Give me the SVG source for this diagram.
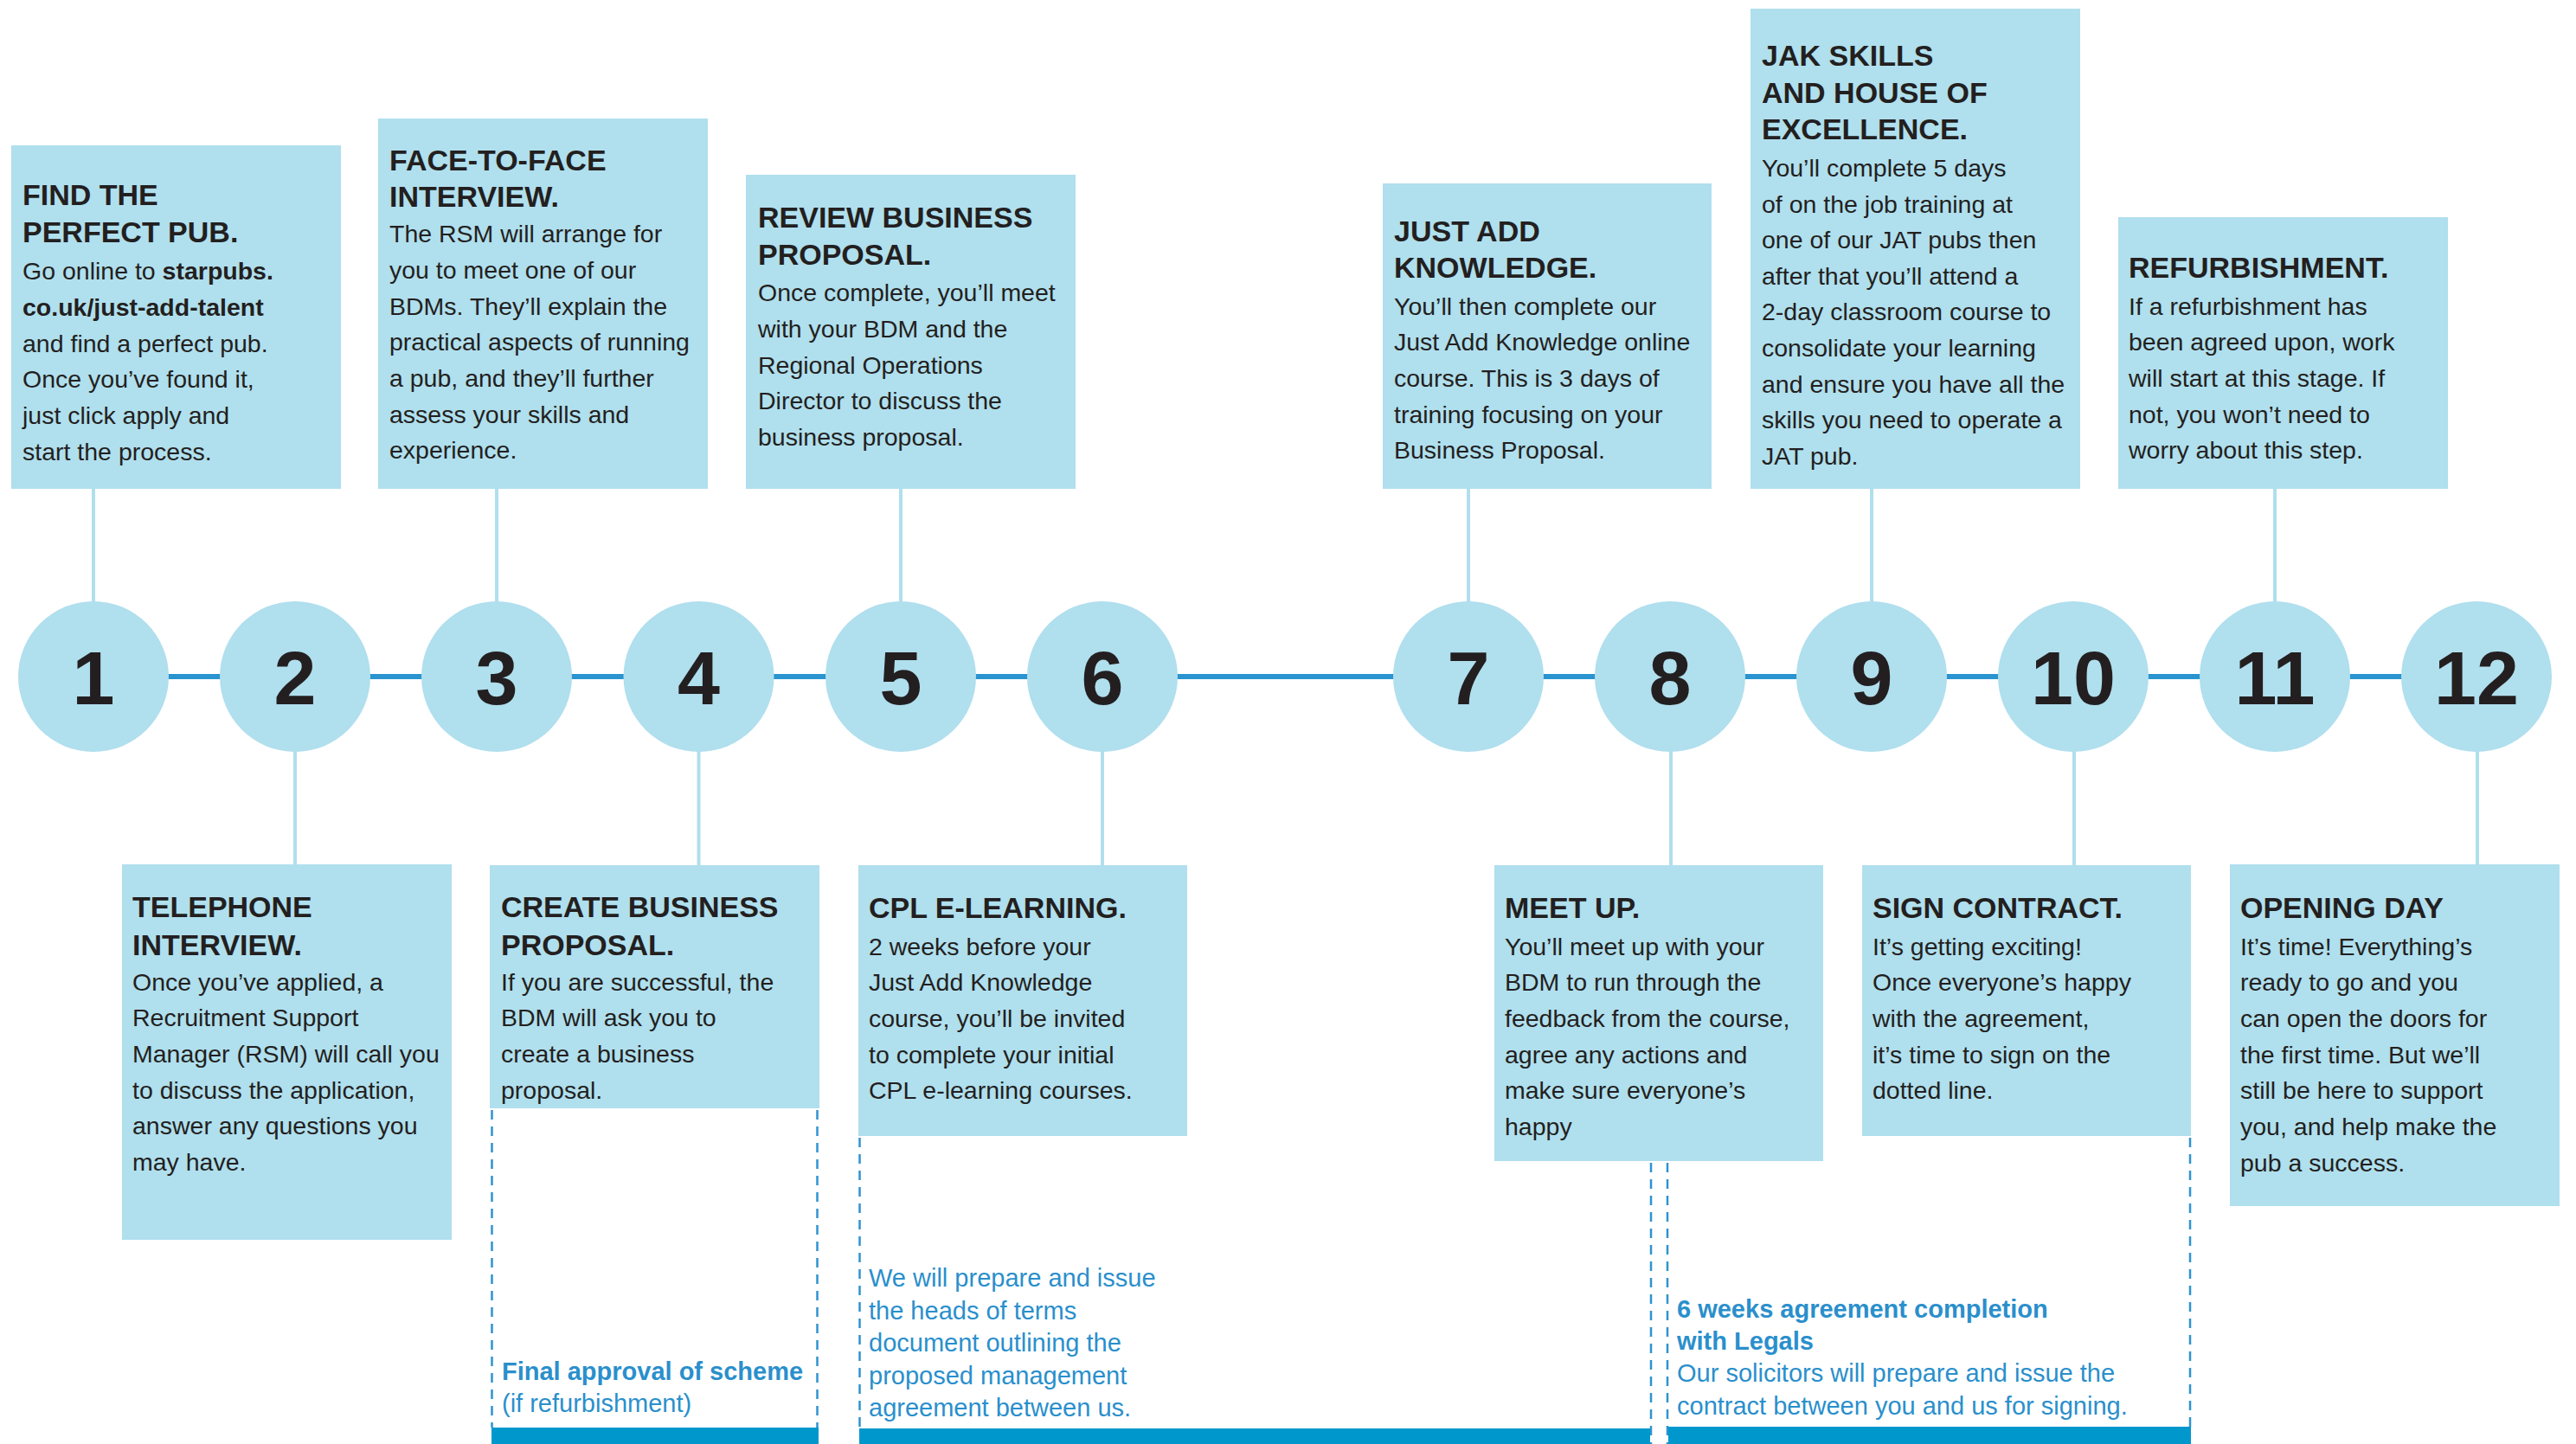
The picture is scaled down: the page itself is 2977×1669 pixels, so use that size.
<svg xmlns="http://www.w3.org/2000/svg" width="2977" height="1669" viewBox="0 0 2977 1669">
<style>
.box{fill:#b0dfee}
.circ{fill:#b0dfee}
.num{font-family:"Liberation Sans",Arial,sans-serif;font-weight:bold;font-size:88px;fill:#231f20;text-anchor:middle}
.h{font-family:"Liberation Sans",Arial,sans-serif;font-weight:bold;font-size:34px;fill:#231f20}
.b{font-family:"Liberation Sans",Arial,sans-serif;font-size:28.5px;fill:#231f20}
.bb{font-weight:bold}
.stem{stroke:#b0dfee;stroke-width:4;fill:none}
.axis{stroke:#2994cf;stroke-width:6;fill:none}
.dash{stroke:#2f93d0;stroke-width:2.5;stroke-dasharray:11 8;fill:none}
.bar{fill:#0098cc}
.bt{font-family:"Liberation Sans",Arial,sans-serif;font-size:29px;fill:#2a8fcc}
</style>
<rect width="2977" height="1669" fill="#ffffff"/>

<g id="connectors">
<line class="axis" x1="108" y1="782" x2="2862" y2="782"/>
<line class="stem" x1="108" y1="565" x2="108" y2="697"/>
<line class="stem" x1="574" y1="565" x2="574" y2="697"/>
<line class="stem" x1="1041" y1="565" x2="1041" y2="697"/>
<line class="stem" x1="1697" y1="565" x2="1697" y2="697"/>
<line class="stem" x1="2163" y1="565" x2="2163" y2="697"/>
<line class="stem" x1="2629" y1="565" x2="2629" y2="697"/>
<line class="stem" x1="341" y1="867" x2="341" y2="1000"/>
<line class="stem" x1="807.5" y1="867" x2="807.5" y2="1000"/>
<line class="stem" x1="1274" y1="867" x2="1274" y2="1000"/>
<line class="stem" x1="1931" y1="867" x2="1931" y2="1000"/>
<line class="stem" x1="2397" y1="867" x2="2397" y2="1000"/>
<line class="stem" x1="2863" y1="867" x2="2863" y2="1000"/>
<line class="dash" x1="568.5" y1="1283" x2="568.5" y2="1650"/>
<line class="dash" x1="944.5" y1="1283" x2="944.5" y2="1650"/>
<line class="dash" x1="993.5" y1="1315" x2="993.5" y2="1651"/>
<line class="dash" x1="1908" y1="1344" x2="1908" y2="1669"/>
<line class="dash" x1="1927" y1="1344" x2="1927" y2="1669"/>
<line class="dash" x1="2531" y1="1315" x2="2531" y2="1650"/>
</g>

<g id="bars">
<rect class="bar" x="568" y="1650" width="378" height="19"/>
<rect class="bar" x="993" y="1651" width="914" height="18"/>
<rect class="bar" x="1928" y="1649" width="604" height="20"/>
</g>

<g id="circles">
<g id="circle-1"><circle class="circ" cx="108" cy="782" r="87"/><text class="num" x="108" y="814">1</text></g>
<g id="circle-2"><circle class="circ" cx="341" cy="782" r="87"/><text class="num" x="341" y="814">2</text></g>
<g id="circle-3"><circle class="circ" cx="574" cy="782" r="87"/><text class="num" x="574" y="814">3</text></g>
<g id="circle-4"><circle class="circ" cx="807.5" cy="782" r="87"/><text class="num" x="807.5" y="814">4</text></g>
<g id="circle-5"><circle class="circ" cx="1041" cy="782" r="87"/><text class="num" x="1041" y="814">5</text></g>
<g id="circle-6"><circle class="circ" cx="1274" cy="782" r="87"/><text class="num" x="1274" y="814">6</text></g>
<g id="circle-7"><circle class="circ" cx="1697" cy="782" r="87"/><text class="num" x="1697" y="814">7</text></g>
<g id="circle-8"><circle class="circ" cx="1930" cy="782" r="87"/><text class="num" x="1930" y="814">8</text></g>
<g id="circle-9"><circle class="circ" cx="2163" cy="782" r="87"/><text class="num" x="2163" y="814">9</text></g>
<g id="circle-10"><circle class="circ" cx="2396" cy="782" r="87"/><text class="num" x="2396" y="814">10</text></g>
<g id="circle-11"><circle class="circ" cx="2629" cy="782" r="87"/><text class="num" x="2629" y="814">11</text></g>
<g id="circle-12"><circle class="circ" cx="2862" cy="782" r="87"/><text class="num" x="2862" y="814">12</text></g>
</g>

<g id="step-1">
<rect class="box" x="13" y="168" width="381" height="397"/>
<text class="h"><tspan x="26" y="237">FIND THE</tspan><tspan x="26" y="280">PERFECT PUB.</tspan></text>
<text class="b"><tspan x="26" y="323">Go online to <tspan class="bb">starpubs.</tspan></tspan><tspan x="26" y="365" class="bb">co.uk/just-add-talent</tspan><tspan x="26" y="407">and find a perfect pub.</tspan><tspan x="26" y="448">Once you’ve found it,</tspan><tspan x="26" y="490">just click apply and</tspan><tspan x="26" y="532">start the process.</tspan></text>
</g>

<g id="step-2">
<rect class="box" x="141" y="999" width="381" height="434"/>
<text class="h"><tspan x="153" y="1060">TELEPHONE</tspan><tspan x="153" y="1104">INTERVIEW.</tspan></text>
<text class="b"><tspan x="153" y="1145">Once you’ve applied, a</tspan><tspan x="153" y="1186">Recruitment Support</tspan><tspan x="153" y="1228">Manager (RSM) will call you</tspan><tspan x="153" y="1270">to discuss the application,</tspan><tspan x="153" y="1311">answer any questions you</tspan><tspan x="153" y="1353">may have.</tspan></text>
</g>

<g id="step-3">
<rect class="box" x="437" y="137" width="381" height="428"/>
<text class="h"><tspan x="450" y="197">FACE-TO-FACE</tspan><tspan x="450" y="239">INTERVIEW.</tspan></text>
<text class="b"><tspan x="450" y="280">The RSM will arrange for</tspan><tspan x="450" y="322">you to meet one of our</tspan><tspan x="450" y="364">BDMs. They’ll explain the</tspan><tspan x="450" y="405">practical aspects of running</tspan><tspan x="450" y="447">a pub, and they’ll further</tspan><tspan x="450" y="489">assess your skills and</tspan><tspan x="450" y="530">experience.</tspan></text>
</g>

<g id="step-4">
<rect class="box" x="566" y="1000" width="381" height="281"/>
<text class="h"><tspan x="579" y="1060">CREATE BUSINESS</tspan><tspan x="579" y="1104">PROPOSAL.</tspan></text>
<text class="b"><tspan x="579" y="1145">If you are successful, the</tspan><tspan x="579" y="1186">BDM will ask you to</tspan><tspan x="579" y="1228">create a business</tspan><tspan x="579" y="1270">proposal.</tspan></text>
<text class="bt"><tspan x="580" y="1595" font-weight="bold">Final approval of scheme</tspan><tspan x="580" y="1632">(if refurbishment)</tspan></text>
</g>

<g id="step-5">
<rect class="box" x="862" y="202" width="381" height="363"/>
<text class="h"><tspan x="876" y="263">REVIEW BUSINESS</tspan><tspan x="876" y="306">PROPOSAL.</tspan></text>
<text class="b"><tspan x="876" y="348">Once complete, you’ll meet</tspan><tspan x="876" y="390">with your BDM and the</tspan><tspan x="876" y="432">Regional Operations</tspan><tspan x="876" y="473">Director to discuss the</tspan><tspan x="876" y="515">business proposal.</tspan></text>
</g>

<g id="step-6">
<rect class="box" x="992" y="1000" width="380" height="313"/>
<text class="h"><tspan x="1004" y="1061">CPL E-LEARNING.</tspan></text>
<text class="b"><tspan x="1004" y="1104">2 weeks before your</tspan><tspan x="1004" y="1145">Just Add Knowledge</tspan><tspan x="1004" y="1187">course, you’ll be invited</tspan><tspan x="1004" y="1229">to complete your initial</tspan><tspan x="1004" y="1270">CPL e-learning courses.</tspan></text>
<text class="bt"><tspan x="1004" y="1487">We will prepare and issue</tspan><tspan x="1004" y="1525">the heads of terms</tspan><tspan x="1004" y="1562">document outlining the</tspan><tspan x="1004" y="1600">proposed management</tspan><tspan x="1004" y="1637">agreement between us.</tspan></text>
</g>

<g id="step-7">
<rect class="box" x="1598" y="212" width="380" height="353"/>
<text class="h"><tspan x="1611" y="279">JUST ADD</tspan><tspan x="1611" y="321">KNOWLEDGE.</tspan></text>
<text class="b"><tspan x="1611" y="364">You’ll then complete our</tspan><tspan x="1611" y="405">Just Add Knowledge online</tspan><tspan x="1611" y="447">course. This is 3 days of</tspan><tspan x="1611" y="489">training focusing on your</tspan><tspan x="1611" y="530">Business Proposal.</tspan></text>
</g>

<g id="step-8">
<rect class="box" x="1727" y="1000" width="380" height="342"/>
<text class="h"><tspan x="1739" y="1061">MEET UP.</tspan></text>
<text class="b"><tspan x="1739" y="1104">You’ll meet up with your</tspan><tspan x="1739" y="1145">BDM to run through the</tspan><tspan x="1739" y="1187">feedback from the course,</tspan><tspan x="1739" y="1229">agree any actions and</tspan><tspan x="1739" y="1270">make sure everyone’s</tspan><tspan x="1739" y="1312">happy</tspan></text>
<text class="bt"><tspan x="1938" y="1523" font-weight="bold">6 weeks agreement completion</tspan><tspan x="1938" y="1560" font-weight="bold">with Legals</tspan><tspan x="1938" y="1597">Our solicitors will prepare and issue the</tspan><tspan x="1938" y="1635">contract between you and us for signing.</tspan></text>
</g>

<g id="step-9">
<rect class="box" x="2023" y="10" width="381" height="555"/>
<text class="h"><tspan x="2036" y="76">JAK SKILLS</tspan><tspan x="2036" y="119">AND HOUSE OF</tspan><tspan x="2036" y="161">EXCELLENCE.</tspan></text>
<text class="b"><tspan x="2036" y="204">You’ll complete 5 days</tspan><tspan x="2036" y="245.5">of on the job training at</tspan><tspan x="2036" y="287">one of our JAT pubs then</tspan><tspan x="2036" y="329">after that you’ll attend a</tspan><tspan x="2036" y="370">2-day classroom course to</tspan><tspan x="2036" y="412">consolidate your learning</tspan><tspan x="2036" y="454">and ensure you have all the</tspan><tspan x="2036" y="495">skills you need to operate a</tspan><tspan x="2036" y="537">JAT pub.</tspan></text>
</g>

<g id="step-10">
<rect class="box" x="2152" y="1000" width="380" height="313"/>
<text class="h"><tspan x="2164" y="1061">SIGN CONTRACT.</tspan></text>
<text class="b"><tspan x="2164" y="1104">It’s getting exciting!</tspan><tspan x="2164" y="1145">Once everyone’s happy</tspan><tspan x="2164" y="1187">with the agreement,</tspan><tspan x="2164" y="1229">it’s time to sign on the</tspan><tspan x="2164" y="1270">dotted line.</tspan></text>
</g>

<g id="step-11">
<rect class="box" x="2448" y="251" width="381" height="314"/>
<text class="h"><tspan x="2460" y="321">REFURBISHMENT.</tspan></text>
<text class="b"><tspan x="2460" y="364">If a refurbishment has</tspan><tspan x="2460" y="405">been agreed upon, work</tspan><tspan x="2460" y="447">will start at this stage. If</tspan><tspan x="2460" y="489">not, you won’t need to</tspan><tspan x="2460" y="530">worry about this step.</tspan></text>
</g>

<g id="step-12">
<rect class="box" x="2577" y="999" width="381" height="395"/>
<text class="h"><tspan x="2589" y="1061">OPENING DAY</tspan></text>
<text class="b"><tspan x="2589" y="1104">It’s time! Everything’s</tspan><tspan x="2589" y="1145">ready to go and you</tspan><tspan x="2589" y="1187">can open the doors for</tspan><tspan x="2589" y="1229">the first time. But we’ll</tspan><tspan x="2589" y="1270">still be here to support</tspan><tspan x="2589" y="1312">you, and help make the</tspan><tspan x="2589" y="1354">pub a success.</tspan></text>
</g>
</svg>
